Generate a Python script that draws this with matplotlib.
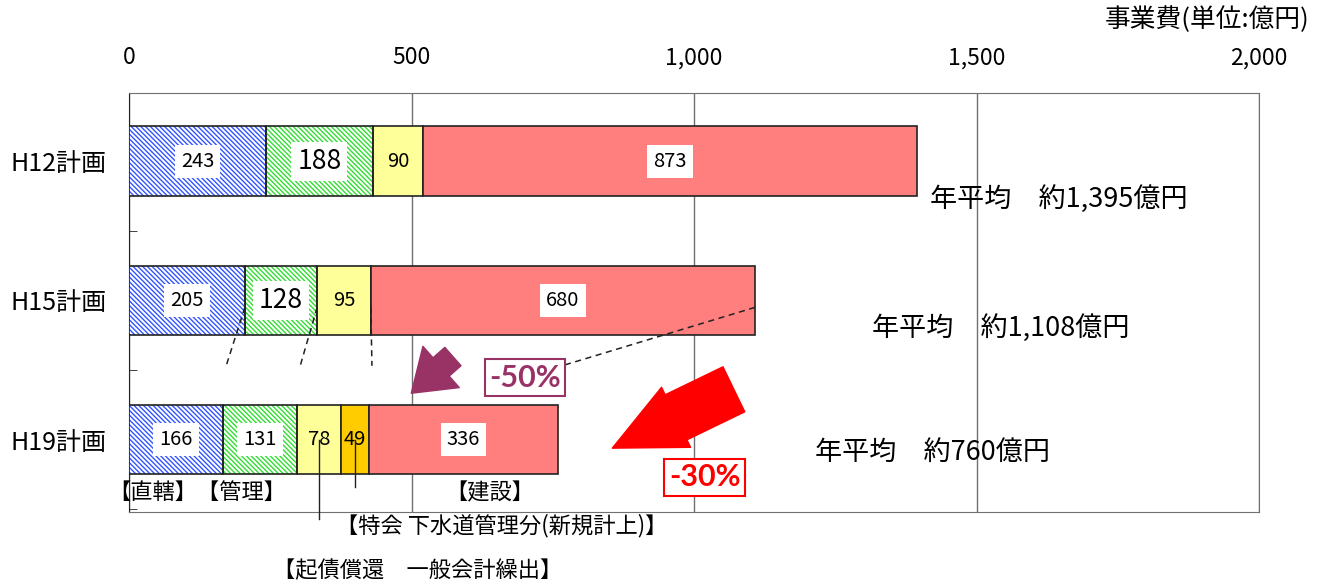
import matplotlib.pyplot as plt
from matplotlib.patches import FancyArrowPatch
import numpy as np

plt.rcParams['font.family'] = ['Noto Sans CJK JP', 'DejaVu Sans']
plt.rcParams['hatch.linewidth'] = 1.0

# データ (億円)
plans = ['H12計画', 'H15計画', 'H19計画']
chokkatsu = [243, 205, 166]   # 直轄
kanri = [188, 128, 131]       # 管理
tokkai = [90, 95, 78]         # 特会 下水道管理分
kisai = [0, 0, 49]            # 起債償還 一般会計繰出
kensetsu = [873, 680, 336]    # 建設
averages = ['年平均　約1,395億円', '年平均　約1,108億円', '年平均　約760億円']
ticks = [0, 500, 1000, 1500, 2000]
tick_labels = ['0', '500', '1,000', '1,500', '2,000']

series = [chokkatsu, kanri, tokkai, kisai, kensetsu]
colors = ['white', 'white', '#FFFF99', '#FFCC00', '#FF7F7F']
hatches = ['\\\\\\\\\\\\\\', '\\\\\\\\\\\\\\', None, None, None]
hatch_cols = ['#3355FF', '#33DD33', None, None, None]
label_box = [True, True, False, False, True]

fig = plt.figure(figsize=(13.24, 5.8), dpi=100)
ax = fig.add_axes([129 / 1324, 1 - 512 / 580, 1130 / 1324, 419 / 580])

y = np.arange(len(plans))
h = 0.5
left = np.zeros(len(plans))
for i, vals in enumerate(series):
    vals = np.array(vals, dtype=float)
    if hatches[i]:
        ax.barh(y, vals, h, left=left, color=colors[i], edgecolor=hatch_cols[i],
                hatch=hatches[i], linewidth=0, zorder=3)
        ax.barh(y, vals, h, left=left, fill=False, edgecolor='#222222',
                linewidth=1.2, zorder=4)
    else:
        ax.barh(y, vals, h, left=left, color=colors[i], edgecolor='#222222',
                linewidth=1.2, zorder=3)
    for j, v in enumerate(vals):
        if v == 0:
            continue
        big = (i == 1 and j < 2)
        pad = 0.22 if big else 0.3
        fs = 19 if big else 14.5
        ax.text(left[j] + v / 2, y[j], f'{int(v)}', ha='center', va='center',
                fontsize=fs, zorder=6,
                bbox=dict(boxstyle=f'square,pad={pad}',
                          fc='white' if label_box[i] else 'none', ec='none'))
    left += vals

ax.set_xlim(0, 2000)
ax.set_ylim(2.52, -0.49)
ax.xaxis.tick_top()
ax.set_xticks(ticks)
ax.set_xticklabels(tick_labels, fontsize=16.5)
ax.tick_params(axis='x', length=0, pad=17)
ax.set_yticks(y)
ax.set_yticklabels(plans, fontsize=18)
ax.tick_params(axis='y', length=0, pad=16)
ax.set_yticks([0.5, 1.5, 2.5], minor=True)
ax.tick_params(axis='y', which='minor', direction='in', length=6, color='#222222')
ax.grid(axis='x', color='#707070', linewidth=1.0, zorder=0)
for s in ['top', 'right', 'bottom']:
    ax.spines[s].set_color('#707070')
ax.spines['left'].set_color('#222222')

# 年平均
avg_x = [1418, 1315, 1214]
avg_y = [0.27, 1.2, 2.09]
for t, xx, yy in zip(averages, avg_x, avg_y):
    ax.text(xx, yy, t, ha='left', va='center', fontsize=19.5, zorder=6)

# 破線 (H15 → H19)
cum15 = np.cumsum([chokkatsu[1], kanri[1], tokkai[1] + kisai[1], kensetsu[1]])
cum19 = np.cumsum([chokkatsu[2], kanri[2], tokkai[2] + kisai[2], kensetsu[2]])
for a, b in zip(cum15, cum19):
    ax.plot([a, b + 6], [1.05, 1.47], ls=(0, (4, 3)), color='#222222', lw=1.1, zorder=5)

# 矢印
ax.add_patch(FancyArrowPatch((577, 1.39), (496, 1.68),
                             arrowstyle='simple,head_length=1.3,head_width=1.8,tail_width=0.8',
                             mutation_scale=22, color='#993366', zorder=7))
ax.add_patch(FancyArrowPatch((1075, 1.63), (851, 2.07),
                             arrowstyle='simple,head_length=1.7,head_width=1.6,tail_width=1.2',
                             mutation_scale=30, color='#FF0000', zorder=7, clip_on=False))

ax.text(701, 1.556, '-50%', ha='center', va='center', fontsize=22, fontweight='bold',
        color='#993366', zorder=8, family=['Lato', 'DejaVu Sans'],
        bbox=dict(boxstyle='square,pad=0.15', fc='white', ec='#993366', lw=1.5))
ax.text(1019, 2.27, '-30%', ha='center', va='center', fontsize=22, fontweight='bold',
        color='#FF0000', zorder=8, family=['Lato', 'DejaVu Sans'],
        bbox=dict(boxstyle='square,pad=0.15', fc='white', ec='#FF0000', lw=1.5))

# 引出線と分類名
x78 = chokkatsu[2] + kanri[2] + tokkai[2] / 2
x49 = chokkatsu[2] + kanri[2] + tokkai[2] + kisai[2] / 2
ax.plot([x78, x78], [2.0, 2.57], color='#222222', lw=1.0, zorder=6, clip_on=False)
ax.plot([x49, x49], [2.0, 2.34], color='#222222', lw=1.0, zorder=6, clip_on=False)

ax.text(120, 2.38, '【直轄】【管理】', ha='center', va='center', fontsize=16, clip_on=False)
ax.text(639, 2.38, '【建設】', ha='center', va='center', fontsize=16, clip_on=False)
ax.text(660, 2.62, '【特会 下水道管理分(新規計上)】', ha='center', va='center', fontsize=16, clip_on=False)
ax.text(511, 2.94, '【起債償還　一般会計繰出】', ha='center', va='center', fontsize=16, clip_on=False)

fig.text(1310 / 1324, 1 - 20 / 580, '事業費(単位:億円)', ha='right', va='center', fontsize=18.5)

fig.savefig('out.png', dpi=100)
